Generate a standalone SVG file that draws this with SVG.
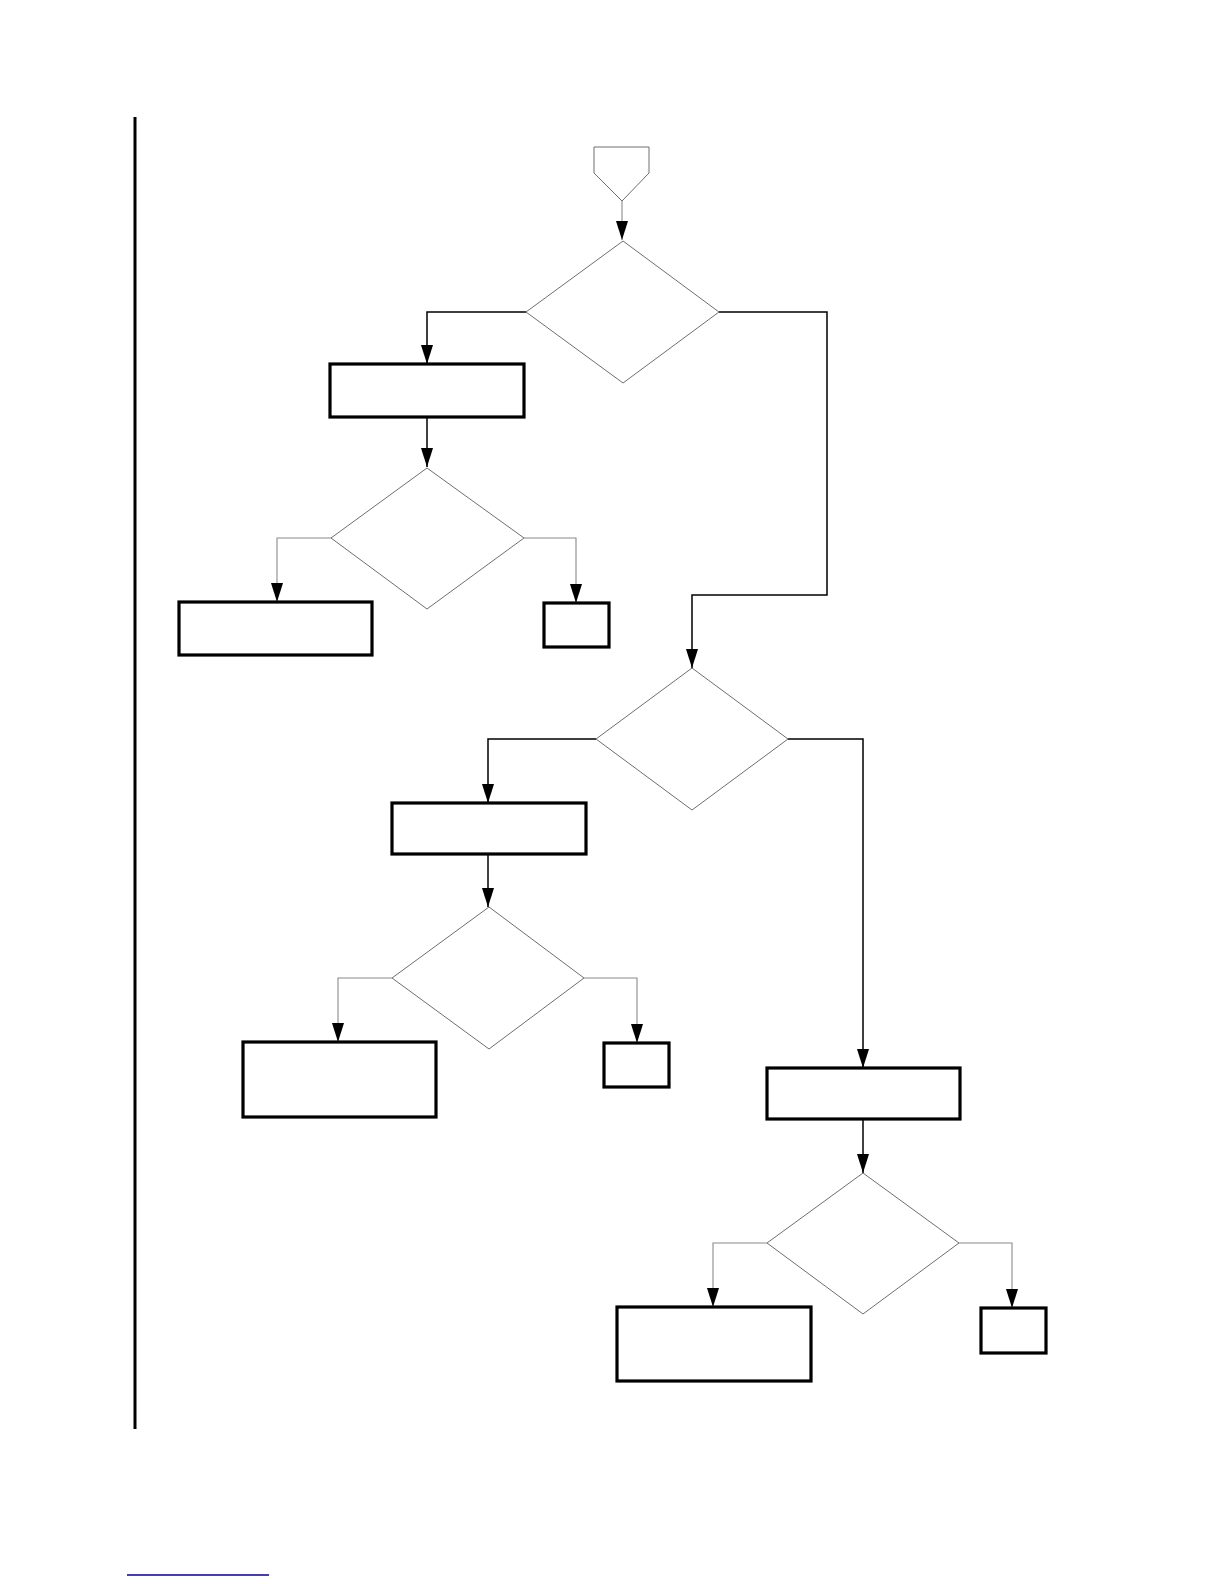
<svg xmlns="http://www.w3.org/2000/svg" width="1224" height="1584" viewBox="0 0 1224 1584">
<style>
.box{fill:#fff;stroke:#000;stroke-width:3.2}
.dia{fill:#fff;stroke:#6e6e6e;stroke-width:1}
.main{fill:none;stroke:#000;stroke-width:1.5}
.thin{fill:none;stroke:#8a8a8a;stroke-width:1.1}
</style>
<defs>
<marker id="ah" viewBox="0 0 19 12" refX="19" refY="6" markerWidth="19" markerHeight="12" markerUnits="userSpaceOnUse" orient="auto">
<path d="M0,0 L19,6 L0,12 z" fill="#000"/>
</marker>
</defs>
<rect width="1224" height="1584" fill="#fff"/>
<line x1="135" y1="117" x2="135" y2="1429" stroke="#000" stroke-width="3"/>
<line x1="127" y1="1575" x2="269" y2="1575" stroke="#00009a" stroke-width="1.3"/>
<g id="connectors">
<path class="thin" d="M622,201 L622,240" marker-end="url(#ah)"/>
<path class="main" d="M526,312 L427,312 L427,364" marker-end="url(#ah)"/>
<path class="main" d="M427,417 L427,467" marker-end="url(#ah)"/>
<path class="thin" d="M331,538 L277,538 L277,602" marker-end="url(#ah)"/>
<path class="thin" d="M524,538 L576,538 L576,603" marker-end="url(#ah)"/>
<path class="main" d="M719,312 L827,312 L827,595 L692,595 L692,668" marker-end="url(#ah)"/>
<path class="main" d="M596,739 L488,739 L488,803" marker-end="url(#ah)"/>
<path class="main" d="M488,854 L488,907" marker-end="url(#ah)"/>
<path class="thin" d="M392,978 L338,978 L338,1042" marker-end="url(#ah)"/>
<path class="thin" d="M584,978 L637,978 L637,1043" marker-end="url(#ah)"/>
<path class="main" d="M788,739 L863,739 L863,1068" marker-end="url(#ah)"/>
<path class="main" d="M863,1119 L863,1173" marker-end="url(#ah)"/>
<path class="thin" d="M767,1243 L713,1243 L713,1307" marker-end="url(#ah)"/>
<path class="thin" d="M959,1243 L1012,1243 L1012,1308" marker-end="url(#ah)"/>
</g>
<g id="start"><polygon class="dia" points="594,147 649,147 649,173 622,201 594,173"/></g>
<g id="d1"><polygon class="dia" points="623,241 719,312 623,383 526,312"/></g>
<g id="b1"><rect class="box" x="330" y="364" width="194" height="53"/></g>
<g id="d2"><polygon class="dia" points="427,468 524,538 427,609 331,538"/></g>
<g id="b2"><rect class="box" x="179" y="602" width="193" height="53"/></g>
<g id="b3"><rect class="box" x="544" y="603" width="65" height="44"/></g>
<g id="d3"><polygon class="dia" points="692,668 788,739 692,810 596,739"/></g>
<g id="b4"><rect class="box" x="392" y="803" width="194" height="51"/></g>
<g id="d4"><polygon class="dia" points="489,907 584,978 489,1049 392,978"/></g>
<g id="b5"><rect class="box" x="243" y="1042" width="193" height="75"/></g>
<g id="b6"><rect class="box" x="604" y="1043" width="65" height="44"/></g>
<g id="b7"><rect class="box" x="767" y="1068" width="193" height="51"/></g>
<g id="d5"><polygon class="dia" points="863,1173 959,1243 863,1314 767,1243"/></g>
<g id="b8"><rect class="box" x="617" y="1307" width="194" height="74"/></g>
<g id="b9"><rect class="box" x="981" y="1308" width="65" height="45"/></g>
</svg>
